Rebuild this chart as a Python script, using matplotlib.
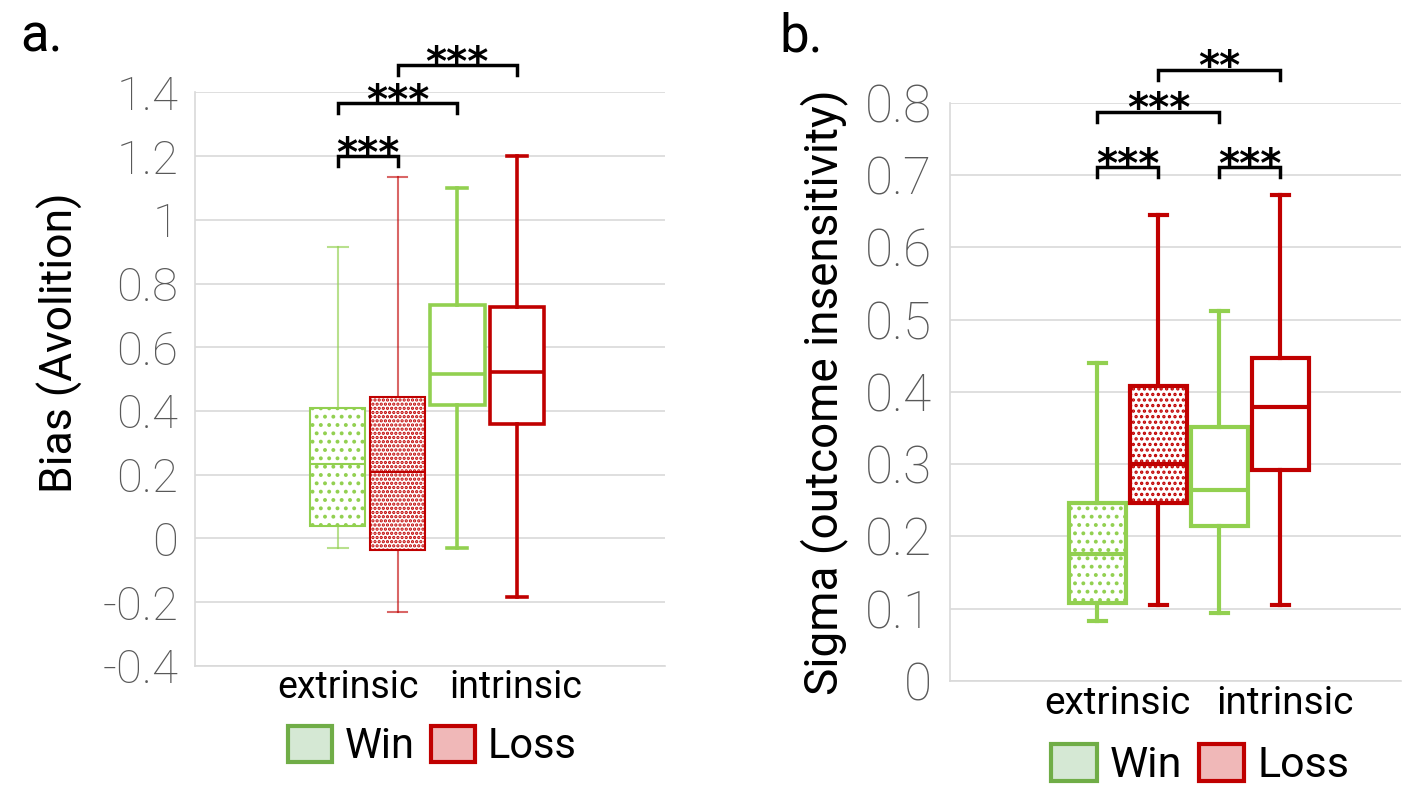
import matplotlib.pyplot as plt
from matplotlib.patches import Patch

plt.rcParams['hatch.linewidth'] = 1.6

groups = ["Win", "Loss", "Win", "Loss"]
categories = ["extrinsic", "intrinsic"]

# panel a: Bias (Avolition), order: ext Win, ext Loss, int Win, int Loss
bias_whislo = [-0.03, -0.23, -0.03, -0.185]
bias_q1 = [0.04, -0.035, 0.42, 0.36]
bias_med = [0.235, 0.207, 0.517, 0.523]
bias_q3 = [0.41, 0.445, 0.733, 0.727]
bias_whishi = [0.915, 1.135, 1.10, 1.20]
bias_ticks = [-0.4, -0.2, 0, 0.2, 0.4, 0.6, 0.8, 1.0, 1.2, 1.4]
bias_ticklabels = ["-0.4", "-0.2", "0", "0.2", "0.4", "0.6", "0.8", "1", "1.2", "1.4"]
bias_sig = [((1, 2), 1.20, "***"), ((1, 3), 1.367, "***"), ((2, 4), 1.486, "***")]

# panel b: Sigma (outcome insensitivity)
sigma_whislo = [0.083, 0.105, 0.094, 0.105]
sigma_q1 = [0.108, 0.246, 0.214, 0.292]
sigma_med = [0.176, 0.300, 0.264, 0.379]
sigma_q3 = [0.246, 0.408, 0.352, 0.447]
sigma_whishi = [0.44, 0.645, 0.512, 0.672]
sigma_ticks = [0, 0.1, 0.2, 0.3, 0.4, 0.5, 0.6, 0.7, 0.8]
sigma_ticklabels = ["0", "0.1", "0.2", "0.3", "0.4", "0.5", "0.6", "0.7", "0.8"]
sigma_sig = [((1, 2), 0.711, "***"), ((3, 4), 0.711, "***"),
             ((1, 3), 0.788, "***"), ((2, 4), 0.846, "**")]

GREEN = "#92D050"
RED = "#C00000"
colors = [GREEN, RED, GREEN, RED]
TICK_FONT = dict(family=["Roboto", "DejaVu Sans"], weight="light")
TEXT_FONT = ["Roboto", "DejaVu Sans"]


def draw_panel(ax, whislo, q1, med, q3, whishi, hatches, lws, alphas,
               width, capw, ticks, ticklabels, ylim, xlim, sig, brk,
               catx, tick_size, tick_pad, cat_size, cat_pad, ylabel, ylab_size):
    stats = []
    for i in range(4):
        stats.append(dict(whislo=whislo[i], q1=q1[i], med=med[i],
                          q3=q3[i], whishi=whishi[i], fliers=[]))
    pos = [1, 2, 3, 4]
    bp = ax.bxp(stats, positions=pos, widths=width, patch_artist=True,
                showfliers=False, capwidths=capw, zorder=3)
    for i in range(4):
        c = colors[i]
        box = bp['boxes'][i]
        box.set_facecolor("white")
        box.set_edgecolor(c)
        box.set_linewidth(lws[i])
        if hatches[i]:
            box.set_hatch(hatches[i])
        bp['medians'][i].set(color=c, linewidth=lws[i], solid_capstyle="butt")
        for ln in bp['whiskers'][2 * i:2 * i + 2] + bp['caps'][2 * i:2 * i + 2]:
            ln.set(color=c, linewidth=lws[i], alpha=alphas[i])

    ax.set_ylim(*ylim)
    ax.set_xlim(*xlim)
    ax.set_yticks(ticks)
    ax.set_yticklabels(ticklabels, fontsize=tick_size, color="#595959",
                       **TICK_FONT)
    ax.tick_params(axis="y", length=0, pad=tick_pad)
    ax.set_xticks(catx)
    ax.set_xticklabels(categories, fontsize=cat_size, family=TEXT_FONT)
    ax.tick_params(axis="x", length=0, pad=cat_pad)
    ax.grid(axis="y", color="#D9D9D9", linewidth=1.2, zorder=0)
    ax.set_axisbelow(True)
    for s in ["top", "right"]:
        ax.spines[s].set_visible(False)
    for s in ["left", "bottom"]:
        ax.spines[s].set_color("#D9D9D9")
        ax.spines[s].set_linewidth(1.2)
    ax.set_ylabel(ylabel, fontsize=ylab_size, family=TEXT_FONT)

    for (a, b), y, label in sig:
        ax.plot([a, a, b, b], [y - brk, y, y, y - brk], color="black",
                linewidth=2.5, clip_on=False, solid_joinstyle="miter")
        ax.annotate(label, xy=((a + b) / 2, y), xytext=(0, -7),
                    textcoords="offset points", ha="center", va="baseline",
                    fontsize=29, fontweight="bold", family="DejaVu Sans",
                    annotation_clip=False)


fig = plt.figure(figsize=(14.12, 7.89), dpi=100)

ax1 = fig.add_axes([0.138, 0.156, 0.333, 0.727])
draw_panel(ax1, bias_whislo, bias_q1, bias_med, bias_q3, bias_whishi,
           hatches=["..", "....", None, None], lws=[1.5, 1.5, 2.6, 2.6],
           alphas=[0.65, 0.6, 1, 1], width=0.92, capw=0.33,
           ticks=bias_ticks, ticklabels=bias_ticklabels, ylim=(-0.4, 1.4),
           xlim=(-1.395, 6.48), sig=bias_sig, brk=0.032, catx=[1.17, 3.98],
           tick_size=34, tick_pad=12, cat_size=27, cat_pad=2,
           ylabel="Bias (Avolition)", ylab_size=32)
ax1.yaxis.set_label_coords(-0.238, 0.564)

ax2 = fig.add_axes([0.673, 0.137, 0.319, 0.7326])
draw_panel(ax2, sigma_whislo, sigma_q1, sigma_med, sigma_q3, sigma_whishi,
           hatches=["..", "...", None, None], lws=[3, 3, 3, 3],
           alphas=[1, 1, 1, 1], width=0.93, capw=0.28,
           ticks=sigma_ticks, ticklabels=sigma_ticklabels, ylim=(0, 0.8),
           xlim=(-1.41, 5.97), sig=sigma_sig, brk=0.014, catx=[1.33, 4.08],
           tick_size=37, tick_pad=13, cat_size=28, cat_pad=3,
           ylabel="Sigma (outcome insensitivity)", ylab_size=33)
ax2.yaxis.set_label_coords(-0.227, 0.5)

handles = [Patch(facecolor="#D5E8D4", edgecolor="#70AD47", linewidth=3, label="Win"),
           Patch(facecolor="#F0B8B8", edgecolor=RED, linewidth=3, label="Loss")]
ax1.legend(handles=handles, loc="center", bbox_to_anchor=(0.505, -0.14), ncol=2,
           frameon=False, handlelength=1.05, handleheight=0.95,
           handletextpad=0.3, columnspacing=0.4,
           prop=dict(family=TEXT_FONT, size=30))
ax2.legend(handles=handles, loc="center", bbox_to_anchor=(0.555, -0.145), ncol=2,
           frameon=False, handlelength=1.05, handleheight=0.95,
           handletextpad=0.3, columnspacing=0.4,
           prop=dict(family=TEXT_FONT, size=31))

fig.text(0.014, 0.985, "a.", fontsize=38, va="top", family=TEXT_FONT)
fig.text(0.552, 0.985, "b.", fontsize=38, va="top", family=TEXT_FONT)

fig.savefig("out.png", dpi=100)
